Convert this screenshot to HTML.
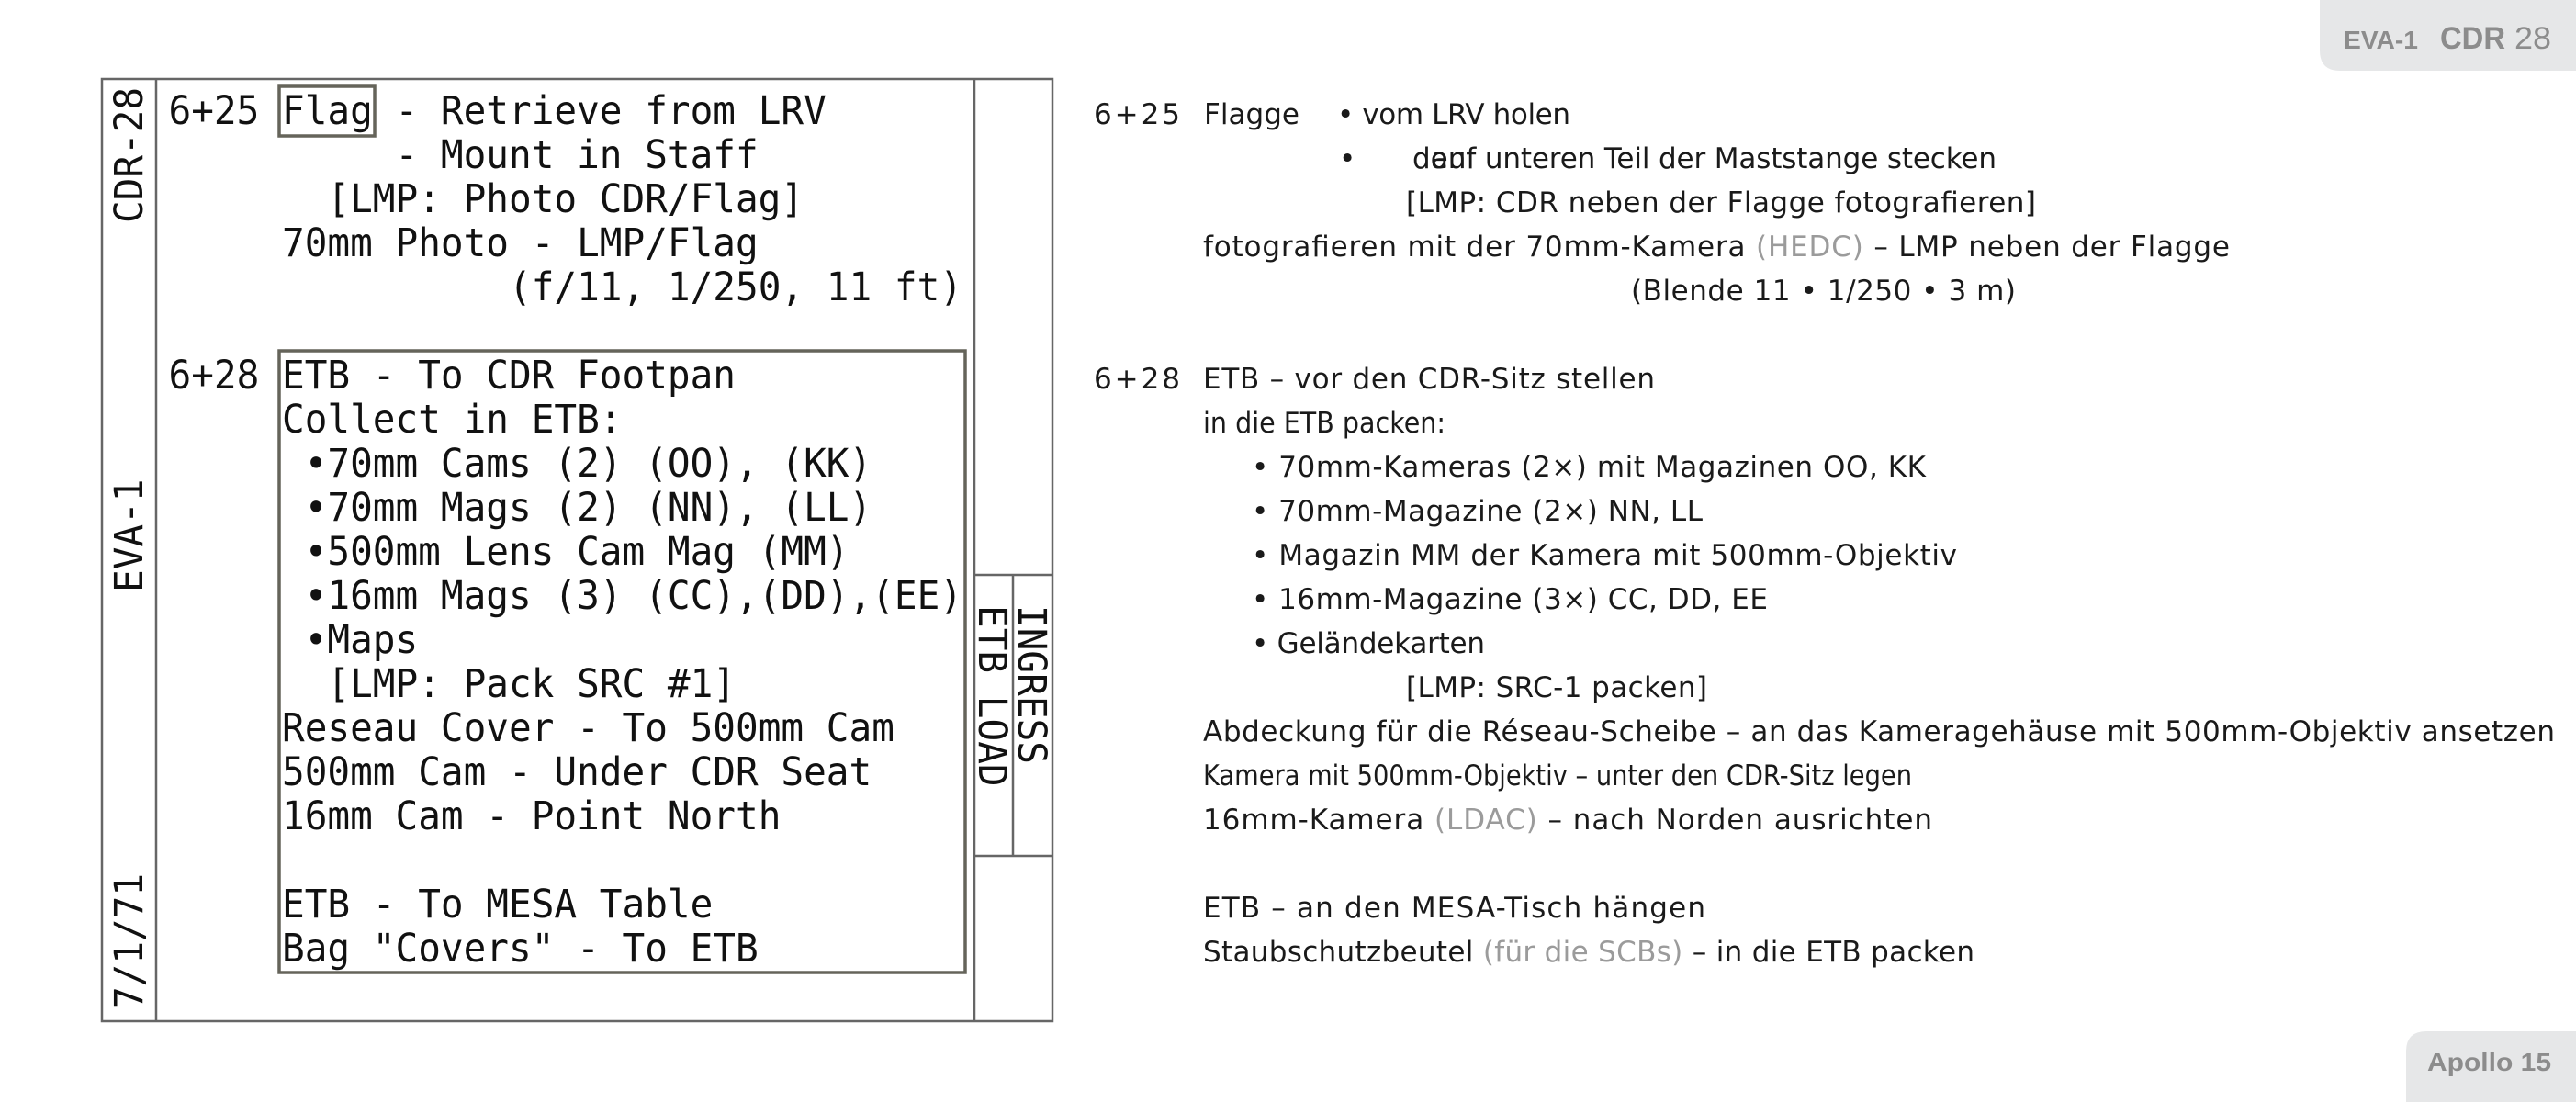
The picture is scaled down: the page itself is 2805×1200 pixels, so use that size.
<!DOCTYPE html>
<html>
<head>
<meta charset="utf-8">
<style>
  html, body { margin:0; padding:0; background:#ffffff; }
  body { width:2805px; height:1200px; overflow:hidden; }
  svg { display:block; }
  .mono { font-family:"DejaVu Sans Mono","Liberation Mono",monospace; font-size:43px; fill:#111111; }
  .de { font-family:"DejaVu Sans","Liberation Sans",sans-serif; font-size:31px; fill:#1a1a1a; }
  .gr { fill:#9b9b9b; }
  .badge { font-family:"Liberation Sans","DejaVu Sans",sans-serif; fill:#8c8c8c; }
</style>
</head>
<body>
<svg width="2805" height="1200" viewBox="0 0 2805 1200" xmlns="http://www.w3.org/2000/svg">
  <rect x="0" y="0" width="2805" height="1200" fill="#ffffff"/>

  <!-- Table frame -->
  <g fill="none" stroke="#666666" stroke-width="2.5">
    <rect x="111" y="86" width="1035" height="1026"/>
    <line x1="170" y1="86" x2="170" y2="1112"/>
    <line x1="1061" y1="86" x2="1061" y2="1112"/>
    <line x1="1061" y1="626" x2="1146" y2="626"/>
    <line x1="1061" y1="932" x2="1146" y2="932"/>
    <line x1="1103" y1="626" x2="1103" y2="932"/>
  </g>

  <!-- Boxes -->
  <g fill="none" stroke="#65645a" stroke-width="3.5">
    <rect x="304" y="94" width="104" height="54"/>
    <rect x="304" y="382" width="747" height="677"/>
  </g>

  <!-- Left rotated labels -->
  <g class="mono">
    <text transform="translate(155,243) rotate(-90)" x="0" y="0" textLength="148" lengthAdjust="spacingAndGlyphs">CDR-28</text>
    <text transform="translate(155,645) rotate(-90)" x="0" y="0" textLength="123.5" lengthAdjust="spacingAndGlyphs">EVA-1</text>
    <text transform="translate(155,1099) rotate(-90)" x="0" y="0" textLength="148" lengthAdjust="spacingAndGlyphs">7/1/71</text>
  </g>

  <!-- Right column rotated labels -->
  <g class="mono">
    <text transform="translate(1109,659) rotate(90)" x="0" y="0" textLength="173" lengthAdjust="spacingAndGlyphs">INGRESS</text>
    <text transform="translate(1066,659) rotate(90)" x="0" y="0" textLength="197.6" lengthAdjust="spacingAndGlyphs">ETB LOAD</text>
  </g>

  <!-- Left mono text -->
  <g class="mono">
    <text x="183.5" y="135" textLength="716.3" lengthAdjust="spacingAndGlyphs">6+25 Flag - Retrieve from LRV</text>
    <text x="430.5" y="183" textLength="395.2" lengthAdjust="spacingAndGlyphs">- Mount in Staff</text>
    <text x="356.4" y="231" textLength="518.7" lengthAdjust="spacingAndGlyphs">[LMP: Photo CDR/Flag]</text>
    <text x="307" y="279" textLength="518.7" lengthAdjust="spacingAndGlyphs">70mm Photo - LMP/Flag</text>
    <text x="554" y="327" textLength="494" lengthAdjust="spacingAndGlyphs">(f/11, 1/250, 11 ft)</text>

    <text x="183.5" y="423" textLength="617.5" lengthAdjust="spacingAndGlyphs">6+28 ETB - To CDR Footpan</text>
    <text x="307" y="471" textLength="370.5" lengthAdjust="spacingAndGlyphs">Collect in ETB:</text>
    <text x="331.7" y="519" textLength="617.5" lengthAdjust="spacingAndGlyphs">•70mm Cams (2) (OO), (KK)</text>
    <text x="331.7" y="567" textLength="617.5" lengthAdjust="spacingAndGlyphs">•70mm Mags (2) (NN), (LL)</text>
    <text x="331.7" y="615" textLength="592.8" lengthAdjust="spacingAndGlyphs">•500mm Lens Cam Mag (MM)</text>
    <text x="331.7" y="663" textLength="716.3" lengthAdjust="spacingAndGlyphs">•16mm Mags (3) (CC),(DD),(EE)</text>
    <text x="331.7" y="711" textLength="123.5" lengthAdjust="spacingAndGlyphs">•Maps</text>
    <text x="356.4" y="759" textLength="444.6" lengthAdjust="spacingAndGlyphs">[LMP: Pack SRC #1]</text>
    <text x="307" y="807" textLength="666.9" lengthAdjust="spacingAndGlyphs">Reseau Cover - To 500mm Cam</text>
    <text x="307" y="855" textLength="642.2" lengthAdjust="spacingAndGlyphs">500mm Cam - Under CDR Seat</text>
    <text x="307" y="903" textLength="543.4" lengthAdjust="spacingAndGlyphs">16mm Cam - Point North</text>
    <text x="307" y="999" textLength="469.3" lengthAdjust="spacingAndGlyphs">ETB - To MESA Table</text>
    <text x="307" y="1047" textLength="518.7" lengthAdjust="spacingAndGlyphs">Bag "Covers" - To ETB</text>
  </g>

  <!-- Right German text -->
  <g class="de">
    <text x="1191" y="135" textLength="94" lengthAdjust="spacing">6+25</text>
    <text x="1311" y="135" textLength="104" lengthAdjust="spacing">Flagge</text>
    <text x="1456" y="135" textLength="254" lengthAdjust="spacing">• vom LRV holen</text>

    <text x="1458" y="183">•</text>
    <text x="1538" y="183">den</text>
    <text x="1558" y="183" textLength="616" lengthAdjust="spacing">auf unteren Teil der Maststange stecken</text>

    <text x="1531" y="231" textLength="686" lengthAdjust="spacing">[LMP: CDR neben der Flagge fotografieren]</text>
    <text x="1310" y="279" textLength="1118" lengthAdjust="spacing">fotografieren mit der 70mm-Kamera <tspan class="gr">(HEDC)</tspan> – LMP neben der Flagge</text>
    <text x="1776" y="327" textLength="419" lengthAdjust="spacing">(Blende 11 • 1/250 • 3 m)</text>

    <text x="1191" y="423" textLength="94" lengthAdjust="spacing">6+28</text>
    <text x="1310" y="423" textLength="492" lengthAdjust="spacing">ETB – vor den CDR-Sitz stellen</text>
    <text x="1310" y="471" textLength="264" lengthAdjust="spacingAndGlyphs">in die ETB packen:</text>
    <text x="1363" y="519" textLength="734" lengthAdjust="spacing">• 70mm-Kameras (2×) mit Magazinen OO, KK</text>
    <text x="1363" y="567" textLength="491" lengthAdjust="spacing">• 70mm-Magazine (2×) NN, LL</text>
    <text x="1363" y="615" textLength="768" lengthAdjust="spacing">• Magazin MM der Kamera mit 500mm-Objektiv</text>
    <text x="1363" y="663" textLength="562" lengthAdjust="spacing">• 16mm-Magazine (3×) CC, DD, EE</text>
    <text x="1363" y="711" textLength="254" lengthAdjust="spacing">• Geländekarten</text>
    <text x="1531" y="759" textLength="328" lengthAdjust="spacing">[LMP: SRC-1 packen]</text>
    <text x="1310" y="807" textLength="1472" lengthAdjust="spacing">Abdeckung für die Réseau-Scheibe – an das Kameragehäuse mit 500mm-Objektiv ansetzen</text>
    <text x="1310" y="855" textLength="772" lengthAdjust="spacingAndGlyphs">Kamera mit 500mm-Objektiv – unter den CDR-Sitz legen</text>
    <text x="1310" y="903" textLength="794" lengthAdjust="spacing">16mm-Kamera <tspan class="gr">(LDAC)</tspan> – nach Norden ausrichten</text>
    <text x="1310" y="999" textLength="547" lengthAdjust="spacing">ETB – an den MESA-Tisch hängen</text>
    <text x="1310" y="1047" textLength="840" lengthAdjust="spacing">Staubschutzbeutel <tspan class="gr">(für die SCBs)</tspan> – in die ETB packen</text>
  </g>

  <!-- Top-right badge -->
  <path d="M2526,0 H2805 V77 H2548 Q2526,77 2526,55 Z" fill="#e6e7e8"/>
  <text class="badge" x="2552" y="53" font-size="27.5" font-weight="bold" textLength="81" lengthAdjust="spacingAndGlyphs">EVA-1</text>
  <text class="badge" x="2657" y="53" font-size="34" font-weight="bold" textLength="71" lengthAdjust="spacingAndGlyphs">CDR</text>
  <text class="badge" x="2738" y="53" font-size="34" font-weight="normal" fill="#959595" textLength="40" lengthAdjust="spacingAndGlyphs">28</text>

  <!-- Bottom-right badge -->
  <path d="M2620,1200 V1145 Q2620,1123 2642,1123 H2805 V1200 Z" fill="#e6e7e8"/>
  <text class="badge" x="2643" y="1166" font-size="27.5" font-weight="bold" textLength="135" lengthAdjust="spacingAndGlyphs">Apollo 15</text>
</svg>
</body>
</html>
